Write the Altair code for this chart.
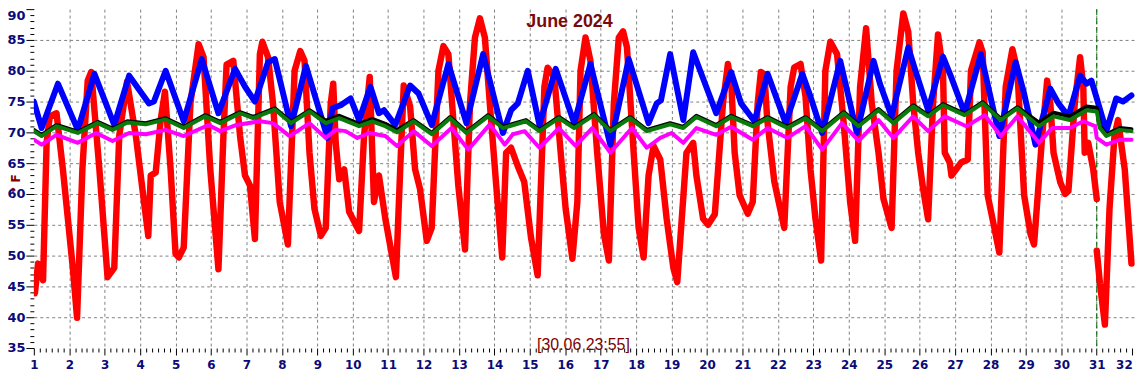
import altair as alt
import pandas as pd

# ---------------- data ----------------
red_day = [1.00,1.03,1.12,1.26,1.36,1.45,1.64,1.82,2.10,2.22,
           2.37,2.52,2.62,2.85,3.08,3.27,3.41,3.63,3.88,4.11,
           4.23,4.30,4.44,4.58,4.70,4.86,5.00,5.09,5.23,5.42,
           5.65,5.79,5.98,6.21,6.35,6.44,6.63,6.82,6.96,7.10,
           7.24,7.38,7.45,7.61,7.75,7.94,8.17,8.36,8.52,8.64,
           8.78,8.92,9.10,9.24,9.38,9.45,9.52,9.62,9.76,9.90,
           10.18,10.32,10.48,10.60,10.74,10.92,11.22,11.34,11.44,11.62,
           11.76,11.90,12.09,12.23,12.42,12.56,12.70,12.84,12.98,13.17,
           13.31,13.45,13.59,13.73,13.87,14.05,14.22,14.33,14.47,14.66,
           14.84,15.03,15.22,15.41,15.50,15.69,15.87,16.01,16.20,16.34,
           16.43,16.57,16.71,16.90,17.09,17.23,17.37,17.51,17.63,17.74,
           17.93,18.07,18.21,18.35,18.49,18.68,18.86,19.05,19.16,19.42,
           19.61,19.70,19.89,20.03,20.22,20.45,20.59,20.69,20.78,20.92,
           21.15,21.29,21.43,21.52,21.62,21.70,21.90,22.18,22.36,22.46,
           22.64,22.78,22.92,23.06,23.22,23.34,23.48,23.67,23.85,24.04,
           24.18,24.32,24.49,24.65,24.84,24.98,25.21,25.35,25.54,25.68,
           25.82,25.96,26.10,26.24,26.38,26.52,26.66,26.71,26.85,26.90,
           27.17,27.36,27.45,27.69,27.78,27.92,28.11,28.25,28.43,28.62,
           28.76,28.95,29.13,29.23,29.46,29.60,29.69,29.78,29.97,30.11,
           30.20,30.38,30.53,30.62,30.66,30.76,30.90,31.00]
red_val = [45.5,43.9,48.7,46.0,68.3,72.6,73.1,64.0,48.0,39.9,
           64.0,78.4,79.8,64.0,46.5,48.0,69.4,78.2,69.4,58.7,
           53.2,63.0,63.5,72.0,76.6,64.0,50.3,49.7,51.3,74.7,
           84.3,82.2,64.0,47.8,69.4,81.0,81.6,69.4,63.0,61.4,
           52.7,82.7,84.7,82.2,74.7,58.7,51.8,80.0,83.2,81.6,
           66.7,57.6,53.2,54.5,74.7,77.9,68.3,62.4,64.0,57.1,
           54.0,69.4,79.0,58.7,63.0,56.0,46.5,64.0,77.6,74.2,
           64.0,60.8,52.4,54.5,80.0,84.0,82.7,72.0,61.4,51.0,
           74.7,85.4,88.5,85.4,74.7,61.4,49.7,66.7,67.5,64.5,
           62.0,53.0,46.8,77.4,80.5,79.0,66.7,57.6,49.5,58.7,
           80.0,85.4,81.6,66.7,53.5,49.2,74.7,85.4,86.4,83.8,
           66.7,54.5,49.7,63.0,67.8,65.6,56.0,48.0,45.7,66.7,
           68.3,63.0,56.0,55.0,56.7,74.7,81.1,77.4,66.7,59.8,
           56.8,58.7,74.7,79.8,79.4,72.0,62.0,54.5,77.4,80.5,
           81.1,75.8,64.0,56.0,49.2,80.0,84.7,82.7,72.0,58.7,
           52.4,77.4,86.9,74.7,66.7,59.2,54.5,80.0,89.3,86.3,
           74.7,66.7,60.8,55.9,74.7,85.9,80.0,66.7,65.1,63.0,
           65.1,65.6,80.0,84.6,83.0,59.8,54.5,50.5,77.4,83.5,
           80.0,59.8,53.5,51.8,69.4,78.4,74.7,66.7,61.9,60.0,
           60.5,74.7,82.2,77.4,66.7,68.3,64.0,59.2]

red2_day = [31.00,31.09,31.23,31.36,31.50,31.60,31.79,31.98]
red2_val = [50.8,45.5,38.8,57.6,69.4,72.0,64.0,48.7]

blue_day = [1.00,1.22,1.68,2.24,2.71,3.27,3.69,4.25,4.39,4.72,
            5.23,5.74,6.21,6.68,6.96,7.24,7.61,7.80,8.26,8.68,
            9.29,9.43,9.66,9.94,10.18,10.50,10.74,10.88,11.20,11.62,
            11.86,12.23,12.70,13.21,13.68,14.24,14.47,14.66,14.94,15.27,
            15.73,16.25,16.71,17.27,17.79,18.35,18.58,18.70,18.96,19.33,
            19.61,20.26,20.68,20.96,21.34,21.71,22.22,22.69,22.92,23.25,
            23.76,24.23,24.70,24.88,25.21,25.68,25.91,26.24,26.66,26.89,
            27.27,27.73,28.25,28.71,28.95,29.27,29.69,29.92,30.20,30.53,
            30.71,30.85,31.00,31.27,31.55,31.74,31.98]
blue_val = [75.0,70.7,77.9,70.4,79.5,71.2,79.2,74.7,75.0,80.0,
            71.8,81.9,73.1,80.3,77.4,75.0,81.4,81.9,71.0,80.8,
            69.1,73.9,74.4,75.5,72.0,77.4,73.1,73.6,71.2,77.6,
            76.3,71.2,81.1,71.5,82.7,69.9,73.6,74.7,80.0,71.2,
            80.3,71.5,81.1,68.0,81.9,71.5,74.7,75.2,82.7,72.0,
            83.0,73.1,79.8,74.7,71.8,79.5,71.5,79.5,75.8,69.9,
            81.6,69.9,81.6,77.9,72.6,83.8,79.5,73.6,82.3,79.0,
            73.1,82.7,69.4,81.4,76.3,68.0,77.1,74.7,72.6,79.2,
            77.9,78.4,75.5,70.2,75.5,75.0,76.0]

green_day = [1.00,1.22,1.64,2.24,2.80,3.22,3.64,4.16,4.72,5.23,
             5.84,6.26,6.82,7.19,7.80,8.26,8.78,9.24,9.62,10.18,
             10.55,10.92,11.25,11.72,12.23,12.75,13.21,13.82,14.24,14.89,
             15.27,15.82,16.25,16.81,17.27,17.83,18.30,18.96,19.33,19.70,
             20.26,20.68,21.29,21.71,22.27,22.78,23.25,23.86,24.28,24.84,
             25.26,25.82,26.24,26.66,27.27,27.78,28.29,28.76,29.37,29.78,
             30.24,30.71,31.00,31.09,31.27,31.65,31.98]
green_val = [70.2,69.4,71.0,69.9,71.5,70.4,71.6,71.3,72.1,70.7,
             72.6,71.5,73.1,72.3,73.7,71.5,73.4,71.5,72.3,71.0,
             71.8,71.0,70.0,71.8,69.7,72.3,69.9,72.6,70.7,71.8,
             70.2,72.3,70.7,72.8,70.2,72.3,70.2,71.3,70.7,72.5,
             71.0,72.5,71.0,72.3,70.7,72.3,70.2,73.1,71.0,73.6,
             71.5,74.2,72.6,74.4,72.8,74.7,72.0,73.9,71.0,72.6,
             72.0,73.6,73.4,70.7,69.4,70.4,70.2]
black_val = [70.4,69.6,71.2,70.1,71.7,70.6,71.8,71.5,72.3,70.9,
             72.8,71.7,73.3,72.5,73.9,71.7,73.6,71.9,72.7,71.4,
             72.2,71.4,70.4,72.0,69.9,72.5,70.1,72.8,70.9,72.0,
             70.4,72.5,70.9,73.0,70.4,72.5,70.4,71.5,70.9,72.7,
             71.2,72.7,71.2,72.5,70.9,72.5,70.4,73.3,71.2,73.8,
             71.7,74.4,72.8,74.6,73.0,74.9,72.2,74.1,71.6,73.2,
             72.6,74.2,74.0,71.0,69.7,70.7,70.5]

mag_day = [1.00,1.22,1.64,2.24,2.76,3.22,3.69,4.16,4.72,5.23,
           5.93,6.26,6.72,7.38,7.75,8.22,8.78,9.24,9.52,9.80,
           10.13,10.46,10.92,11.25,11.72,12.23,12.79,13.26,13.87,14.29,
           14.52,14.85,15.27,15.82,16.29,16.76,17.27,17.88,18.30,18.68,
           19.00,19.33,19.70,20.26,20.68,21.29,21.71,22.27,22.78,23.25,
           23.81,24.28,24.84,25.26,25.82,26.24,26.71,27.32,27.84,28.29,
           28.76,29.37,29.74,30.24,30.62,30.95,31.00,31.27,31.65,31.98]
mag_val = [68.8,68.0,69.6,68.3,69.9,68.6,69.9,69.7,70.4,69.4,
           71.2,70.2,71.2,71.8,71.5,69.4,71.5,69.1,70.4,70.2,
           69.1,69.9,69.4,67.8,70.2,67.8,70.7,67.2,71.3,68.0,
           69.7,70.2,67.5,70.7,67.8,70.7,66.7,70.7,67.5,69.1,
           69.9,68.3,70.7,69.6,70.9,68.8,70.7,69.1,71.0,67.2,
           71.5,68.6,72.0,69.1,72.6,70.2,72.6,71.0,72.8,69.4,
           72.6,68.3,70.7,70.7,71.8,71.0,69.1,68.0,68.8,68.8]

marker_day = [31]
title_text = ["June 2024"]
stamp_text = ["[30.06 23:55]"]


def frame(days, vals, name, seg):
    assert len(days) == len(vals), name
    return pd.DataFrame({"d": days, "v": vals, "s": name, "seg": seg})


df = pd.concat([
    frame(red_day, red_val, "red", 0),
    frame(red2_day, red2_val, "red", 1),
    frame(blue_day, blue_val, "blue", 0),
    frame(green_day, black_val, "black", 0),
    frame(green_day, green_val, "green", 0),
    frame(mag_day, mag_val, "magenta", 0),
], ignore_index=True)

W, H = 1108, 341
x_scale = alt.Scale(domain=[1, 32.08], nice=False, zero=False)
y_scale = alt.Scale(domain=[35, 90], nice=False, zero=False)

x_ticks = [1 + i / 6 for i in range(0, 31 * 6 + 1)]
y_ticks = list(range(35, 91))

LABEL_COLOR = "#0a0a78"
DARKRED = "#800000"
IS_DAY = "abs(datum.value - round(datum.value)) < 0.01"

x_axis = alt.Axis(
    values=x_ticks,
    labelExpr=IS_DAY + " ? '' + round(datum.value) : ''",
    labelFont="DejaVu Sans", labelFontWeight="bold", labelFontSize=12,
    labelColor=LABEL_COLOR, labelBaseline="top", labelPadding=5,
    labelAlign={"condition": {"test": "datum.value > 31.5", "value": "right"}, "value": "center"},
    labelOverlap=False, labelFlush=False,
    tickSize={"condition": {"test": IS_DAY, "value": 7}, "value": 4},
    tickColor="#000000", tickWidth=1,
    grid=True, gridColor="#808080", gridDash=[3, 3], gridWidth=1,
    gridOpacity={"condition": {"test": IS_DAY + " && datum.value > 1.5 && datum.value < 31.5", "value": 1}, "value": 0},
    domain=False, title=None,
)
y_axis = alt.Axis(
    values=y_ticks,
    labelExpr="datum.value % 5 === 0 ? '' + datum.value : ''",
    labelFont="DejaVu Sans", labelFontWeight="bold", labelFontSize=13,
    labelColor=LABEL_COLOR, labelPadding=1, labelOverlap=False, labelFlush=False,
    labelBaseline={"condition": {"test": "datum.value === 90", "value": "top"}, "value": "middle"},
    tickSize={"condition": {"test": "datum.value % 5 === 0", "value": 8}, "value": 4},
    tickColor="#000000", tickWidth=1,
    grid=True, gridColor="#808080", gridDash=[3, 3], gridWidth=1,
    gridOpacity={"condition": {"test": "datum.value % 5 === 0 && datum.value > 35 && datum.value < 90", "value": 1}, "value": 0},
    domain=False,
    title="° F", titleColor=DARKRED, titleFont="DejaVu Sans", titleFontWeight="bold",
    titleFontSize=12, titleX=-18, titleY=175, titleAngle=270,
    titleAlign="center", titleBaseline="middle",
)

base = alt.Chart(df)


def line(name, color, width):
    return base.transform_filter(alt.datum.s == name).mark_line(
        color=color, strokeWidth=width, strokeJoin="round", strokeCap="round", clip=True
    ).encode(
        x=alt.X("d:Q", scale=x_scale, axis=x_axis),
        y=alt.Y("v:Q", scale=y_scale, axis=y_axis),
        detail="seg:N",
    )


vline = alt.Chart(pd.DataFrame({"d": marker_day})).mark_rule(
    color="#006400", strokeDash=[6, 3], strokeWidth=1
).encode(x=alt.X("d:Q", scale=x_scale, axis=x_axis))

title = alt.Chart(pd.DataFrame({"t": title_text})).mark_text(
    font="Liberation Sans", fontWeight="bold", fontSize=18, color="#7a0a0a",
    align="center", baseline="middle"
).encode(x=alt.value(539), y=alt.value(13), text="t:N")

stamp = alt.Chart(pd.DataFrame({"t": stamp_text})).mark_text(
    font="Liberation Sans", fontSize=16, color=DARKRED,
    align="center", baseline="middle"
).encode(x=alt.value(553), y=alt.value(338), text="t:N")

chart = alt.layer(
    vline,
    line("red", "#ff0000", 6.5),
    line("blue", "#0000ff", 6),
    line("black", "#000000", 4),
    line("green", "#0a7a0a", 4),
    line("magenta", "#ff00ff", 4),
    title,
    stamp,
).properties(
    width=W, height=H,
    padding={"left": 26, "top": 0, "right": 3, "bottom": 25},
    autosize=alt.AutoSizeParams(type="none"),
    background="#ffffff",
).configure_view(stroke=None)

chart.save("out.html", embed_options={"renderer": "svg", "actions": False})
